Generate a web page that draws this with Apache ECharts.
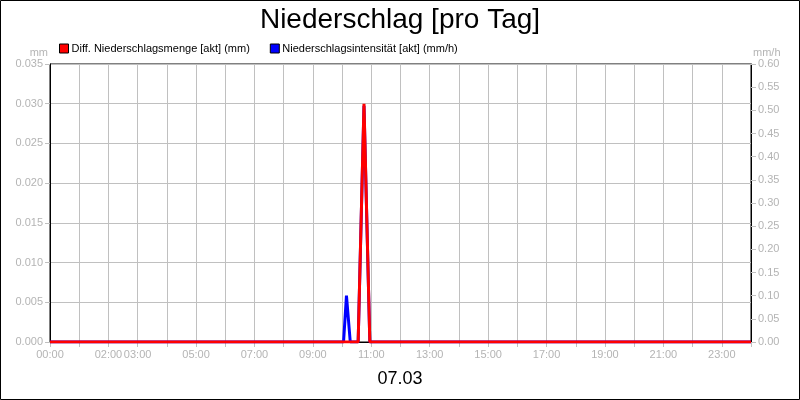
<!DOCTYPE html>
<html>
<head>
<meta charset="utf-8">
<script src="https://cdn.jsdelivr.net/npm/echarts@6/dist/echarts.min.js"></script>
<style>
html,body{margin:0;padding:0;background:#fff;}
#c{width:800px;height:400px;}
</style>
</head>
<body>
<div id="c"></div>
<script>
// Data (hours of day, values)
const seriesNames = ['Diff. Niederschlagsmenge [akt] (mm)', 'Niederschlagsintensität [akt] (mm/h)'];
const redTimes  = [0, 10.55, 10.75, 10.95, 24];
const redValues = [0, 0, 0.030, 0, 0];
const blueTimes  = [0, 10.05, 10.15, 10.28, 10.55, 10.75, 10.95, 24];
const blueValues = [0, 0, 0.10, 0, 0, 0.51, 0, 0];
const xLabelHours = [0, 2, 3, 5, 7, 9, 11, 13, 15, 17, 19, 21, 23];
const dateLabel = '07.03';

const pad = n => (n < 10 ? '0' : '') + n;
const gray = '#b4b4b4';
const gridGray = '#c0c0c0';
const font = "'Liberation Sans', Arial, sans-serif";

const chart = echarts.init(document.getElementById('c'));
chart.setOption({
  animation: false,
  textStyle: { fontFamily: font },
  title: [
    { text: 'Niederschlag [pro Tag]', left: 'center', top: 1,
      textStyle: { fontFamily: font, fontSize: 28, fontWeight: 'normal', color: '#000' } },
    { text: dateLabel, left: 'center', top: 365,
      textStyle: { fontFamily: font, fontSize: 18, fontWeight: 'normal', color: '#000' } }
  ],
  legend: {
    data: seriesNames, left: 54, top: 38, itemWidth: 9, itemHeight: 9, itemGap: 20,
    icon: 'rect',
    itemStyle: { borderColor: '#000', borderWidth: 1 },
    textStyle: { fontFamily: font, fontSize: 11, color: '#000', padding: [0, 0, 0, -2] }
  },
  graphic: [{ type: 'rect', shape: { x: 0.5, y: 0.5, width: 799, height: 399 },
              style: { fill: 'none', stroke: '#000', lineWidth: 1 }, z: 100 }],
  grid: { left: 50, right: 49, top: 64, bottom: 58, show: true, borderColor: '#000', borderWidth: 1, backgroundColor: 'transparent' },
  xAxis: {
    type: 'value', min: 0, max: 24, interval: 1,
    axisLine: { lineStyle: { color: '#000' } },
    axisTick: { show: true, length: 5, lineStyle: { color: gridGray } },
    splitLine: { show: true, lineStyle: { color: gridGray } },
    axisLabel: { color: gray, fontSize: 11, margin: 7, fontFamily: font,
      formatter: v => xLabelHours.indexOf(v) >= 0 ? pad(v) + ':00' : '' }
  },
  yAxis: [
    { type: 'value', min: 0, max: 0.035, interval: 0.005, name: 'mm',
      nameTextStyle: { color: gray, fontSize: 11, fontFamily: font, align: 'right', padding: [0, 2, -4, 0] },
      nameGap: 8,
      axisLine: { show: true, lineStyle: { color: '#000' } },
      axisTick: { show: true, length: 5, lineStyle: { color: gridGray } },
      splitLine: { show: true, lineStyle: { color: gridGray } },
      axisLabel: { color: gray, fontSize: 11, margin: 7, fontFamily: font, formatter: v => v.toFixed(3) } },
    { type: 'value', min: 0, max: 0.6, interval: 0.05, name: 'mm/h', position: 'right',
      nameTextStyle: { color: gray, fontSize: 11, fontFamily: font, align: 'left', padding: [0, 0, -4, 2] },
      nameGap: 8,
      axisLine: { show: true, lineStyle: { color: '#000' } },
      axisTick: { show: true, length: 5, lineStyle: { color: gridGray } },
      splitLine: { show: false },
      axisLabel: { color: gray, fontSize: 11, margin: 7, fontFamily: font, formatter: v => v.toFixed(2) } }
  ],
  series: [
    { name: seriesNames[1], type: 'line', yAxisIndex: 1, showSymbol: false, symbol: 'none',
      color: '#0000ff', lineStyle: { width: 3, color: '#0000ff' },
      data: blueTimes.map((t, i) => [t, blueValues[i]]) },
    { name: seriesNames[0], type: 'line', yAxisIndex: 0, showSymbol: false, symbol: 'none',
      color: '#ff0000', lineStyle: { width: 3, color: '#ff0000' },
      data: redTimes.map((t, i) => [t, redValues[i]]) }
  ]
});
</script>
</body>
</html>
